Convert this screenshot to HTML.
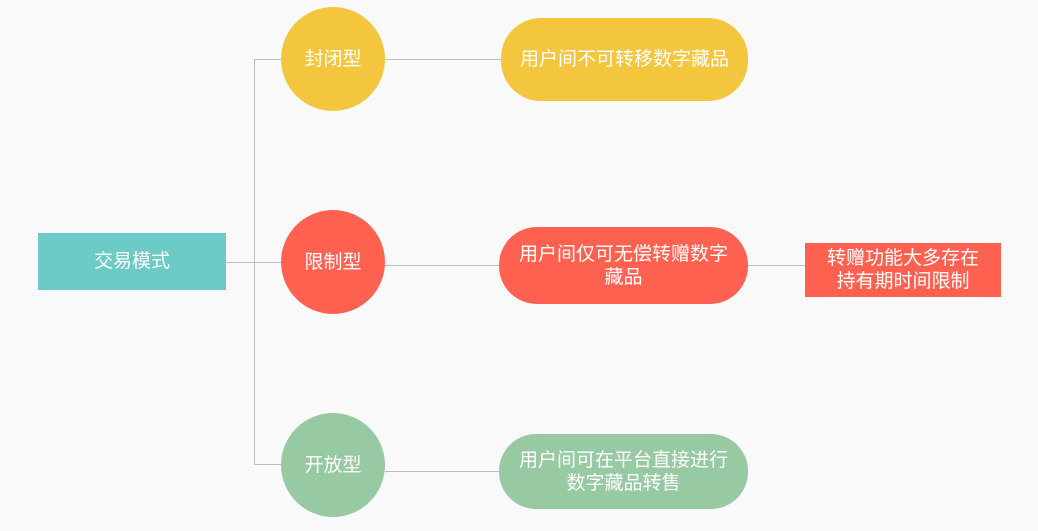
<!DOCTYPE html>
<html><head><meta charset="utf-8"><style>
html,body{margin:0;padding:0;}
body{width:1038px;height:531px;background:#f9f9f9;position:relative;overflow:hidden;font-family:"Liberation Sans","Noto Sans CJK SC",sans-serif;color:#fff;}
.n{position:absolute;display:flex;align-items:center;justify-content:center;text-align:center;line-height:23px;}
.l{position:absolute;background:#bdbdbd;}
</style></head><body>
<div class="l" style="left:226px;top:262px;width:56px;height:1px"></div>
<div class="l" style="left:254px;top:59px;width:1px;height:406px"></div>
<div class="l" style="left:254px;top:59px;width:28px;height:1px"></div>
<div class="l" style="left:254px;top:464px;width:28px;height:1px"></div>
<div class="l" style="left:385px;top:59px;width:116px;height:1px"></div>
<div class="l" style="left:385px;top:265px;width:116px;height:1px"></div>
<div class="l" style="left:385px;top:471px;width:116px;height:1px"></div>
<div class="l" style="left:748px;top:265px;width:57px;height:1px"></div>

<div class="n" style="left:38px;top:233px;width:188px;height:57px;background:#6ccbc7;font-size:19px">交易模式</div>

<div class="n" style="left:281px;top:7px;width:104px;height:104px;border-radius:50%;background:#f4c63d;font-size:19px">封闭型</div>
<div class="n" style="left:281px;top:210px;width:104px;height:104px;border-radius:50%;background:#ff6150;font-size:19px">限制型</div>
<div class="n" style="left:281px;top:413px;width:104px;height:104px;border-radius:50%;background:#97c9a3;font-size:19px">开放型</div>

<div class="n" style="left:501px;top:18px;width:247px;height:83px;border-radius:40px;background:#f4c63d;font-size:19px">用户间不可转移数字藏品</div>
<div class="n" style="left:499px;top:227px;width:249px;height:77px;border-radius:38px;background:#ff6150;font-size:19px;padding:0 14px;box-sizing:border-box">用户间仅可无偿转赠数字藏品</div>
<div class="n" style="left:499px;top:434px;width:249px;height:75px;border-radius:37px;background:#97c9a3;font-size:19px;padding:0 14px;box-sizing:border-box">用户间可在平台直接进行数字藏品转售</div>

<div class="n" style="left:805px;top:243px;width:196px;height:54px;background:#ff6150;font-size:19px">转赠功能大多存在<br>持有期时间限制</div>
</body></html>
